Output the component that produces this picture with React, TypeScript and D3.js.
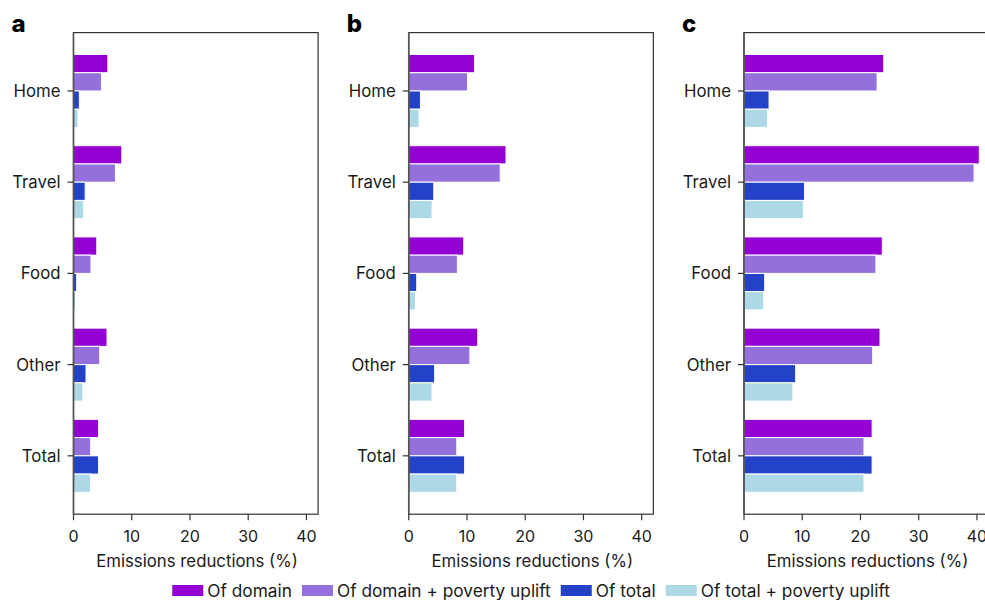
import { useEffect, useRef } from "react"
import * as d3 from "d3"

// categories top -> bottom
const categories = ["Home", "Travel", "Food", "Other", "Total"]

const seriesNames = [
  "Of domain",
  "Of domain + poverty uplift",
  "Of total",
  "Of total + poverty uplift",
]
const seriesColors = ["#9400d3", "#9370db", "#2342c8", "#add8e6"]

// panel a
const aOfDomain = [5.9, 8.3, 4.0, 5.75, 4.3]
const aOfDomainUplift = [4.8, 7.2, 3.0, 4.5, 2.95]
const aOfTotal = [1.0, 2.0, 0.55, 2.15, 4.3]
const aOfTotalUplift = [0.77, 1.75, 0.35, 1.6, 2.95]

// panel b
const bOfDomain = [11.3, 16.7, 9.45, 11.85, 9.6]
const bOfDomainUplift = [10.1, 15.7, 8.35, 10.5, 8.25]
const bOfTotal = [2.0, 4.3, 1.37, 4.45, 9.6]
const bOfTotalUplift = [1.77, 4.0, 1.15, 4.0, 8.25]

// panel c
const cOfDomain = [24.0, 40.4, 23.75, 23.35, 22.0]
const cOfDomainUplift = [22.85, 39.5, 22.65, 22.1, 20.6]
const cOfTotal = [4.3, 10.4, 3.55, 8.87, 22.0]
const cOfTotalUplift = [4.06, 10.2, 3.38, 8.4, 20.6]

const panels = [
  { label: "a", series: [aOfDomain, aOfDomainUplift, aOfTotal, aOfTotalUplift] },
  { label: "b", series: [bOfDomain, bOfDomainUplift, bOfTotal, bOfTotalUplift] },
  { label: "c", series: [cOfDomain, cOfDomainUplift, cOfTotal, cOfTotalUplift] },
]

const xTicks = [0, 10, 20, 30, 40]
const xLabel = "Emissions reductions (%)"

const FONT = "Inter, 'Open Sans', sans-serif"
const TEXT = "#1a1a1a"
const AXIS = "#333"

export default function App() {
  const ref = useRef<SVGSVGElement>(null)

  useEffect(() => {
    if (!ref.current) return
    const el = ref.current
    d3.select(el).selectAll("*").remove()

    const W = 985
    const H = 600
    const svg = d3.select(el).attr("width", W).attr("height", H).attr("viewBox", `0 0 ${W} ${H}`)

    const plotTop = 32.6
    const plotBottom = 514.2
    const plotW = 244.6
    const panelX0 = 73.5
    const panelStep = 335.25

    const x = d3.scaleLinear().domain([0, 42]).range([0, plotW])
    // matplotlib-style index axis, inverted
    const y = d3.scaleLinear().domain([-0.64, 4.64]).range([plotTop, plotBottom])
    const barH = 0.2

    panels.forEach((p, pi) => {
      const g = svg.append("g").attr("transform", `translate(${panelX0 + pi * panelStep},0)`)

      // bars
      p.series.forEach((vals, si) => {
        g.append("g")
          .selectAll("rect")
          .data(vals)
          .join("rect")
          .attr("x", x(0))
          .attr("y", (_, i) => y(i + (si - 2) * barH))
          .attr("width", (d) => x(d) - x(0))
          .attr("height", y(barH) - y(0))
          .attr("fill", seriesColors[si])
          .attr("stroke", "white")
          .attr("stroke-width", 1)
      })

      // frame
      g.append("rect")
        .attr("x", 0)
        .attr("y", plotTop)
        .attr("width", plotW)
        .attr("height", plotBottom - plotTop)
        .attr("fill", "none")
        .attr("stroke", AXIS)
        .attr("stroke-width", 1.2)
      g.append("line")
        .attr("x1", 0).attr("x2", 0)
        .attr("y1", plotTop).attr("y2", plotBottom)
        .attr("stroke", "#555").attr("stroke-width", 1.6)

      // y ticks
      categories.forEach((c, i) => {
        g.append("line")
          .attr("x1", -6).attr("x2", 0)
          .attr("y1", y(i)).attr("y2", y(i))
          .attr("stroke", AXIS).attr("stroke-width", 1.2)
        g.append("text")
          .attr("x", -13)
          .attr("y", y(i))
          .attr("dy", "0.36em")
          .attr("text-anchor", "end")
          .attr("font-family", FONT)
          .attr("font-size", 16.8)
          .attr("fill", TEXT)
          .text(c)
      })

      // x ticks
      xTicks.forEach((t) => {
        g.append("line")
          .attr("x1", x(t)).attr("x2", x(t))
          .attr("y1", plotBottom).attr("y2", plotBottom + 6)
          .attr("stroke", AXIS).attr("stroke-width", 1.2)
        g.append("text")
          .attr("x", x(t))
          .attr("y", plotBottom + 28)
          .attr("text-anchor", "middle")
          .attr("font-family", FONT)
          .attr("font-size", 16)
          .attr("fill", TEXT)
          .text(t)
      })

      g.append("text")
        .attr("x", x(21.2))
        .attr("y", plotBottom + 52.5)
        .attr("text-anchor", "middle")
        .attr("font-family", FONT)
        .attr("font-size", 16.8)
        .attr("fill", TEXT)
        .text(xLabel)

      g.append("text")
        .attr("x", -62)
        .attr("y", 32)
        .attr("font-family", FONT)
        .attr("font-size", 24)
        .attr("font-weight", 800)
        .attr("fill", "#000")
        .text(p.label)
    })

    // legend, centred under the panels
    const lg = svg.append("g")
    const swW = 31
    const swH = 11
    const gapText = 4
    const gapItem = 10
    let cx = 0
    seriesNames.forEach((name, si) => {
      lg.append("rect")
        .attr("x", cx)
        .attr("y", 585)
        .attr("width", swW)
        .attr("height", swH)
        .attr("fill", seriesColors[si])
      const t = lg
        .append("text")
        .attr("x", cx + swW + gapText)
        .attr("y", 596.5)
        .attr("font-family", FONT)
        .attr("font-size", 17.3)
        .attr("fill", TEXT)
        .text(name)
      const tw = (t.node() as SVGTextElement).getComputedTextLength()
      cx += swW + gapText + tw + gapItem
    })
    const total = cx - gapItem
    const centre = panelX0 + (2 * panelStep + plotW) / 2
    lg.attr("transform", `translate(${centre - total / 2},0)`)
  }, [])

  return (
    <svg
      ref={ref}
      style={{ position: "absolute", left: 0, top: 0, display: "block", background: "white" }}
    />
  )
}
